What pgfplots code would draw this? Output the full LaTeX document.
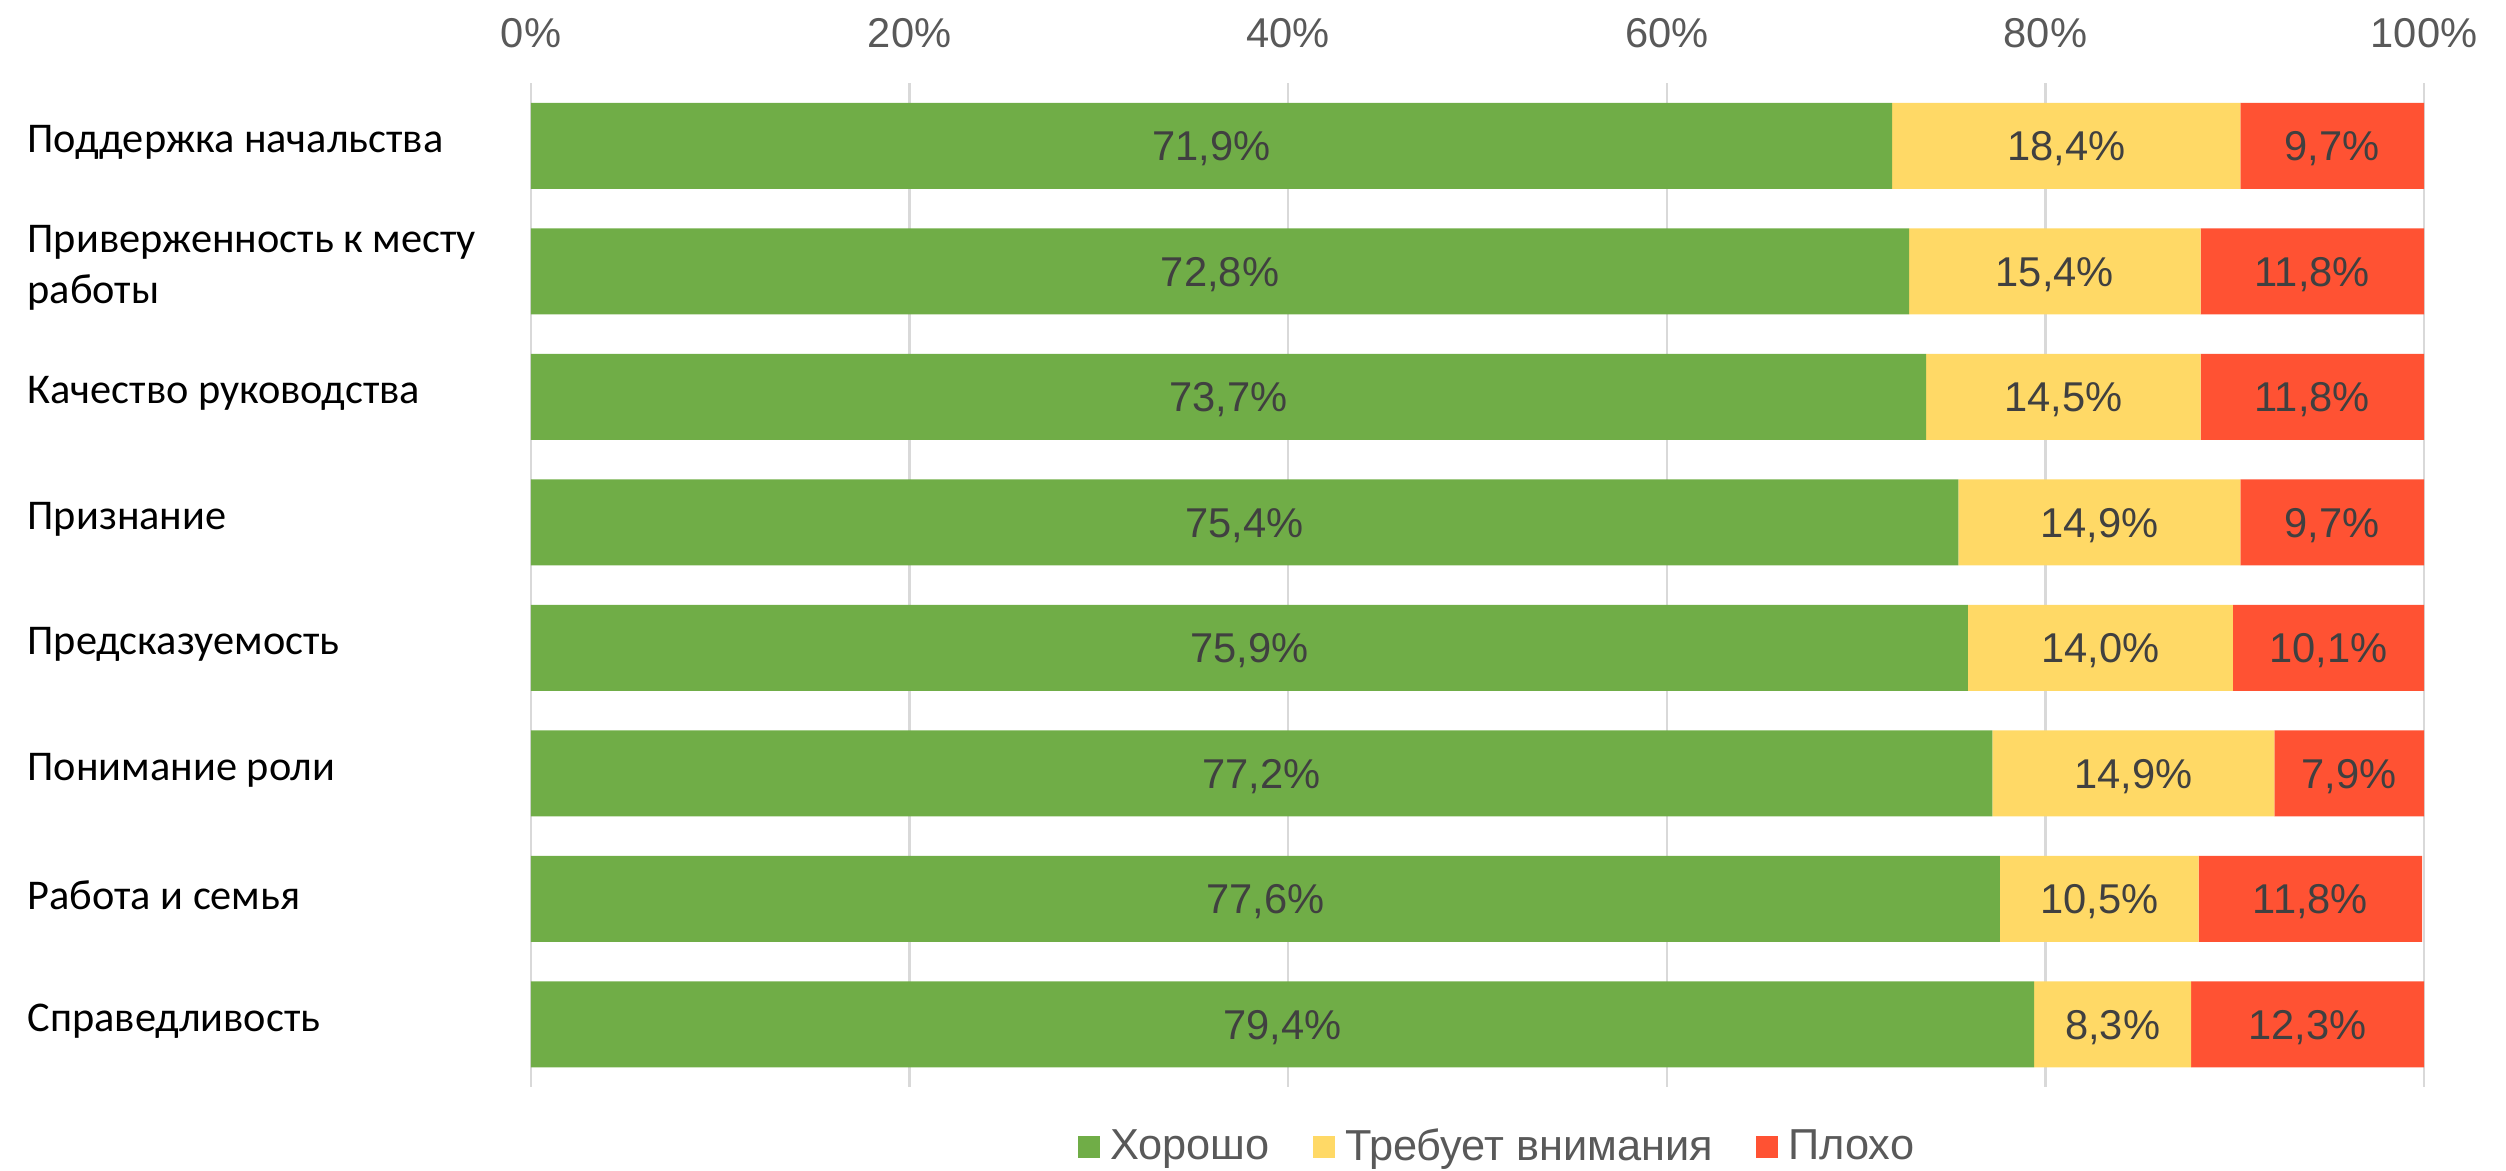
\documentclass[border=0pt]{standalone}
\usepackage{pgfplots}
\usepackage{pgfplotstable}
\pgfplotsset{compat=1.18}
\usepackage{fontspec}
\setmainfont{Liberation Sans}
\newfontfamily\carlito{Carlito}
\definecolor{cgood}{HTML}{70AD47}
\definecolor{cwarn}{HTML}{FFD966}
\definecolor{cbad}{HTML}{FF5233}
\definecolor{cgrid}{HTML}{D9D9D9}
\definecolor{ctick}{HTML}{595959}
\definecolor{clab}{HTML}{404040}

\pgfplotstableread{
i g w b
0 71.9 18.4 9.7
1 72.8 15.4 11.8
2 73.7 14.5 11.8
3 75.4 14.9 9.7
4 75.9 14.0 10.1
5 77.2 14.9 7.9
6 77.6 10.5 11.8
7 79.4 8.3 12.3
}\data

\pgfplotsset{
  common/.style={
    at={(0,0)}, anchor=south west,
    scale only axis, width=567.9pt, height=301.2pt,
    xmin=0, xmax=100, ymin=-0.5, ymax=7.5, y dir=reverse,
  },
  sq/.style={legend image code/.code={\fill[##1] (0pt,-3.3pt) rectangle (6.6pt,3.3pt);}},
}

\begin{document}
\begin{tikzpicture}
\useasboundingbox (-159.3pt,-24.9pt) rectangle (592.5pt,326.1pt);
\begin{axis}[common,
  xbar stacked, bar width=25.8pt,
  axis line style={draw=none}, tick style={draw=none},
  xmajorgrids, grid style={cgrid, line width=0.75pt},
  xtick={0,20,40,60,80,100},
  xticklabels={0\%,20\%,40\%,60\%,80\%,100\%},
  xticklabel pos=upper,
  xticklabel style={anchor=base, yshift=10.8pt, inner sep=0pt, text=ctick, font=\fontsize{12.5}{15}\selectfont},
  ytick={0,...,7},
  yticklabels={Поддержка начальства, {Приверженность к месту\\работы}, Качество руководства, Признание, Предсказуемость, Понимание роли, Работа и семья, Справедливость},
  yticklabel style={anchor=west, align=left, inner sep=0pt, xshift=-151.2pt, yshift=1pt, text=black, font=\carlito\fontsize{12.7}{15.3}\selectfont},
  legend columns=3,
  legend style={at={(0.5125,-0.0594)}, anchor=center, draw=none, fill=none,
    font=\fontsize{13}{15}\selectfont, text=ctick,
    nodes={inner xsep=3pt, inner ysep=1.5pt},
    /tikz/every even column/.append style={column sep=10pt}},
]
\addplot[fill=cgood, draw=none, sq] table[x=g, y=i] {\data};
\addplot[fill=cwarn, draw=none, sq] table[x=w, y=i] {\data};
\addplot[fill=cbad, draw=none, sq] table[x=b, y=i] {\data};
\legend{Хорошо, Требует внимания, Плохо}
\end{axis}
\begin{axis}[common, hide axis,
  nodes near coords={\pgfmathprintnumber[use comma,fixed,fixed zerofill,precision=1,assume math mode=true]{\pgfplotspointmeta}\%},
  every node near coord/.append style={anchor=base, yshift=-4.5pt, text=clab, font=\fontsize{12.5}{15}\selectfont},
  point meta=explicit,
]
\addplot[draw=none, mark=none] table[x expr=\thisrow{g}/2, y=i, meta=g] {\data};
\addplot[draw=none, mark=none] table[x expr=\thisrow{g}+\thisrow{w}/2, y=i, meta=w] {\data};
\addplot[draw=none, mark=none] table[x expr=\thisrow{g}+\thisrow{w}+\thisrow{b}/2, y=i, meta=b] {\data};
\end{axis}
\end{tikzpicture}
\end{document}
